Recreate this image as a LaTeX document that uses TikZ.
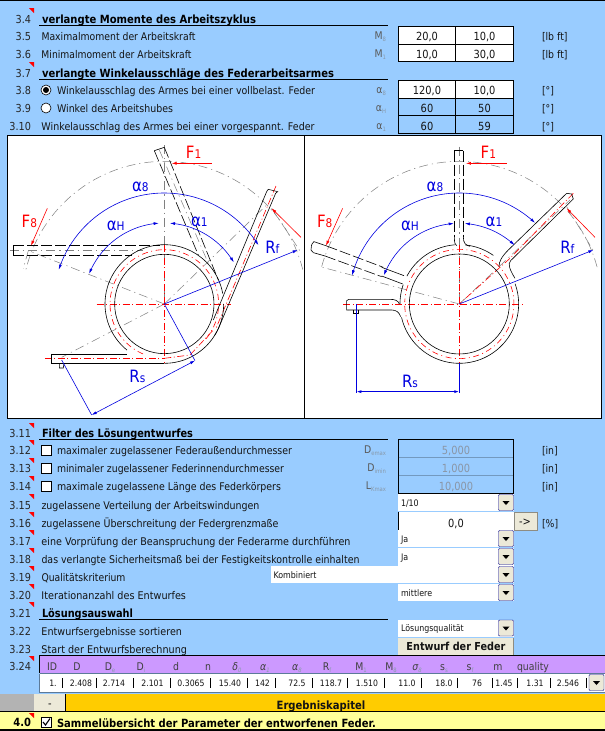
\documentclass[tikz,border=0pt]{standalone}
\usepackage{graphicx}
\usepackage{fontspec}
\setmainfont[FakeStretch=0.88]{DejaVu Sans}
\usetikzlibrary{arrows.meta}
\definecolor{bg}{HTML}{99CCFF}
\definecolor{purp}{HTML}{CC99FF}
\definecolor{orng}{HTML}{FFCC00}
\definecolor{yell}{HTML}{FFFF99}
\definecolor{btn}{HTML}{ECE9D8}
\definecolor{subg}{HTML}{8899AA}
\definecolor{dis}{HTML}{8A96A6}
\definecolor{dblue}{HTML}{0000E0}
\definecolor{lgray}{HTML}{808080}
\newcommand\subg[1]{\raisebox{-2pt}{\fontsize{6}{6}\selectfont\color{subg}#1}}
\newcommand\fitw[2]{\resizebox{#1pt}{\height}{#2}}
\newcommand\carc[5]{plot[domain=#4:#5,samples=60] ({#1+#3*cos(\x)},{#2-#3*sin(\x)})}
\tikzset{
  txt/.style={inner sep=0pt,outer sep=0pt,font=\fontsize{10.6}{12}\selectfont,text=black!92},
  lbl/.style={txt,anchor=base west,yshift=-4pt},
  num/.style={txt,anchor=base east,yshift=-4pt,font=\fontsize{11}{12}\selectfont,text=black!85},
  head/.style={lbl,font=\fontsize{11.3}{12}\bfseries\selectfont,text=black},
  sym/.style={num,yshift=1pt,font=\fontsize{10.6}{12}\selectfont,text=black!65},
  unit/.style={lbl},
  mid/.style={txt,anchor=base,yshift=-4pt,font=\fontsize{11.2}{12}\selectfont},
  small/.style={lbl,yshift=0.5pt,font=\fontsize{9}{10}\selectfont},
  tab/.style={txt,anchor=base,yshift=-3pt,font=\fontsize{8.8}{10}\selectfont},
  hdr/.style={txt,anchor=base,yshift=-4pt,font=\fontsize{10.6}{10}\selectfont,text=black!75},
  cell/.style={draw=black,line width=0.8pt},
  rline/.style={black,line width=0.9pt},
  wire/.style={black,line width=0.6pt},
  dwire/.style={wire,dash pattern=on 11pt off 3pt},
  redc/.style={red,line width=0.6pt,dash pattern=on 7pt off 2.5pt on 1pt off 2.5pt},
  redcs/.style={red,line width=0.6pt,dash pattern=on 6pt off 3.5pt on 1pt off 3.5pt},
  grayc/.style={lgray,line width=0.5pt,dash pattern=on 9pt off 4pt on 1.2pt off 4pt},
  bluel/.style={dblue,line width=0.6pt},
  redl/.style={red,line width=0.6pt},
  bt/.style={-{Latex[length=5pt,width=3pt]}},
  btt/.style={{Latex[length=5pt,width=3pt]}-{Latex[length=5pt,width=3pt]}},
  blabel/.style={txt,anchor=center,text=dblue,font=\fontsize{17}{17}\selectfont},
  rlabel/.style={txt,anchor=center,text=red,font=\fontsize{17}{17}\selectfont},
}
\newcommand\sm{\fontsize{12}{12}\selectfont}
\newcommand\corner[2]{\fill[red] (#1,#2) -- ++(5,0) -- ++(0,5) -- cycle;}
\newcommand\dropbtn[2]{%
  \fill[btn,draw=dblue!60!black,line width=0.4pt,rounded corners=1pt] (#1,#2) rectangle ++(15,16);
  \fill[black] (#1+4,#2+6.5) -- ++(7,0) -- ++(-3.5,4) -- cycle;}
\newcommand\dropdown[6]{% name, x1, y1, x2, y2, text
  \fill[white] (#2,#3) rectangle (#4,#5);
  \node[small] (#1) at (#2+3,{(#3+#5)/2}) {#6};
  \dropbtn{#4-15}{#3+0.5}}
\newcommand\chk[2]{\draw[black,fill=white,line width=0.8pt] (#1,#2) rectangle ++(10,10);}
\begin{document}
\begin{tikzpicture}[x=1pt,y=-1pt]
\useasboundingbox (0,0) rectangle (605,731);
\fill[bg] (0,0) rectangle (605,731);
\fill[black] (0,0) rectangle (605,1);

% ---- section 3.4 .. 3.10
\corner{29}{8}\corner{29}{62}
\node[num] (n34) at (31,19) {3.4};
\node[head] (h34) at (42,19) {\fitw{214}{verlangte Momente des Arbeitszyklus}};
\draw[rline] (39,25.5) -- (388,25.5);
\node[num] (n35) at (31,36) {3.5};
\node[lbl] (t35) at (41.5,36) {\fitw{154}{Maximalmoment der Arbeitskraft}};
\node[sym] (s35) at (386,36) {M\subg{8}};
\node[num] (n36) at (31,54) {3.6};
\node[lbl] (t36) at (41.5,54) {\fitw{150}{Minimalmoment der Arbeitskraft}};
\node[sym] (s36) at (386,54) {M\subg{1}};
\node[num] (n37) at (31,73) {3.7};
\node[head] (h37) at (42,73) {\fitw{292}{verlangte Winkelausschläge des Federarbeitsarmes}};
\draw[rline] (39,79.5) -- (388,79.5);
\node[num] (n38) at (31,90) {3.8};
\node[lbl] (t38) at (57,90) {\fitw{258}{Winkelausschlag des Armes bei einer vollbelast. Feder}};
\node[sym] (s38) at (386,90) {α\subg{8}};
\node[num] (n39) at (31,108) {3.9};
\node[lbl] (t39) at (57,108) {\fitw{116}{Winkel des Arbeitshubes}};
\node[sym] (s39) at (386,108) {α\subg{H}};
\node[num] (n310) at (31,126) {3.10};
\node[lbl] (t310) at (41.5,126) {\fitw{273}{Winkelausschlag des Armes bei einer vorgespannt. Feder}};
\node[sym] (s310) at (386,126) {α\subg{1}};
\draw[black,fill=white,line width=0.6pt] (46,90) circle (5);
\fill[black] (46,90) circle (3);
\draw[black,fill=white,line width=0.6pt] (46,108) circle (5);

\fill[white] (398,26) rectangle (513.5,61.5);
\fill[white] (398,80) rectangle (513.5,98);
\draw[cell] (398,26) rectangle (513.5,61.5);
\draw[cell] (398,44) -- (513.5,44) (455.7,26) -- (455.7,61.5);
\draw[cell] (398,80) rectangle (513.5,133.5);
\draw[cell] (398,98) -- (513.5,98) (398,115.5) -- (513.5,115.5) (455.7,80) -- (455.7,133.5);
\node[mid] (v1a) at (427,36) {20,0};
\node[mid] (v1b) at (484.5,36) {10,0};
\node[mid] (v2a) at (427,54) {10,0};
\node[mid] (v2b) at (484.5,54) {30,0};
\node[mid] (v3a) at (427,90) {120,0};
\node[mid] (v3b) at (484.5,90) {10,0};
\node[mid] (v4a) at (427,108) {60};
\node[mid] (v4b) at (484.5,108) {50};
\node[mid] (v5a) at (427,126) {60};
\node[mid] (v5b) at (484.5,126) {59};
\node[unit] (u1) at (542,36) {[lb ft]};
\node[unit] (u2) at (542,54) {[lb ft]};
\node[unit] (u3) at (542,90) {[°]};
\node[unit] (u4) at (542,108) {[°]};
\node[unit] (u5) at (542,126) {[°]};

% ---- drawing frames
\fill[white] (7.3,135) rectangle (601.5,418);
\draw[black,line width=0.9pt] (7.3,135) rectangle (601.5,418);
\draw[black,line width=0.9pt] (304.3,135) -- (304.3,418);

% ---- left figure (coordinates of a 3x enlargement)
\begin{scope}[shift={(0,130)},x=0.3333pt,y=-0.3333pt]
  \coordinate (L) at (493,522);
  % gray construction
  \draw[grayc] \carc{493}{522}{428}{14}{166};
  \draw[grayc] (493,45) -- (L);
  \draw[grayc] (L) -- (85,362);
  \draw[grayc] (85,362) -- (70,415);
  \draw[grayc] (L) -- (800,225);
  \draw[grayc] (815,235) -- (905,370);
  \draw[grayc] (L) -- (185,682);
  \draw[grayc] (30,362) -- (430,362);
  \draw[grayc] (478,60) -- (625,400);
  % red centre lines
  \draw[redc] (290,522) -- (692,522);
  \draw[redc] (493,345) -- (493,700);
  \draw[redcs] \carc{493}{522}{163}{-40}{250};
  \draw[redc] (828,168) -- (648,595);
  \draw[redc] (135,685) -- (493,685);
  \draw[redc] (493,685) -- (570,675) -- (640,600);
  % dashed positions
  \draw[dwire] (40,347) -- (480,347);
  \draw[dwire] (40,376) -- (395,376);
  \draw[wire] (40,347) -- (40,376);
  \draw[wire] (463,62) -- (493,52);
  \draw[dwire] (463,62) -- (595,375);
  \draw[dwire] (493,52) -- (655,450);
  % coil and arms
  \draw[wire] (493,522) circle[radius=149];
  \draw[wire] \carc{493}{522}{178}{-32}{0} ;
  \draw[wire] \carc{493}{522}{178}{10}{231};
  \draw[wire] (154,672) -- (380,672);
  \draw[wire] (154,700) -- (493,700);
  \draw[wire] (154,672) -- (154,700);
  \draw[wire] \carc{493}{522}{178}{-90}{-24};
  \draw[wire] (656,594) -- (827,190) -- (833,185) -- (805,178) -- (800,185) -- (640,570);
  \draw[wire] (178,700) -- (178,714) -- (190,714) -- (192,700);
  % blue dimensions
  \draw[bluel,btt] \carc{493}{522}{333}{32}{162};
  \draw[bluel,btt] \carc{493}{522}{243}{31}{86};
  \draw[bluel,btt] \carc{493}{522}{243}{94}{158};
  \draw[bluel,bt] (L) -- (893,360);
  \draw[bluel] (L) -- (585,692);
  \draw[bluel] (185,690) -- (275,855);
  \draw[bluel,btt] (275,855) -- (585,692);
  % red forces
  \draw[redl,bt] (635,100) -- (515,100);
  \draw[redl,bt] (142,235) -- (93,347);
  \draw[redl,bt] (903,322) -- (815,235);
  % labels
  \node[rlabel] (lF1) at (581,68) {F\sm 1};
  \node[rlabel] (lF8) at (88,275) {F\sm 8};
  \node[blabel] (la8) at (421,170) {α\sm 8};
  \node[blabel] (laH) at (347,288) {α\sm H};
  \node[blabel] (la1) at (598,275) {α\sm 1};
  \node[blabel] (lRf) at (817,352) {R\sm f};
  \node[blabel] (lRs) at (412,740) {R\sm s};
\end{scope}

% ---- right figure
\begin{scope}[shift={(300,130)},x=0.3333pt,y=-0.3333pt]
  \coordinate (R) at (478,522);
  \draw[grayc] \carc{478}{522}{428}{15}{165};
  \draw[grayc] (478,50) -- (R);
  \draw[grayc] (R) -- (60,410);
  \draw[grayc] (R) -- (810,210);
  \draw[grayc] (800,230) -- (885,370);
  \draw[redc] (130,522) -- (675,522);
  \draw[redc] (478,345) -- (478,700);
  \draw[redcs] \carc{478}{522}{164}{-178}{178};
  \draw[redc] (820,190) -- (630,385);
  \draw[redc] (630,385) -- (R);
  % dashed arms
  \draw[wire] (463,62) -- (490,62);
  \draw[dwire] (463,62) -- (463,320);
  \draw[dwire] (490,62) -- (490,320);
  \draw[wire] (463,320) .. controls (463,340) and (466,345) .. (470,347);
  \draw[wire] (490,320) .. controls (490,340) and (497,346) .. (510,349);
  \draw[wire] (42,335) .. controls (34,340) and (33,352) .. (33,360) -- (40,368);
  \draw[wire] (42,335) -- (80,348);
  \draw[wire] (40,368) -- (75,378);
  \draw[dwire] (80,348) -- (250,412);
  \draw[dwire] (75,378) -- (245,440);
  \draw[wire] (245,412) -- (312,437);
  \draw[wire] (245,438) -- (308,462);
  % coil
  \draw[wire] (478,522) circle[radius=150];
  \draw[wire] \carc{478}{522}{178}{55}{84};
  \draw[wire] \carc{478}{522}{178}{94}{152};
  \draw[wire] \carc{478}{522}{178}{161}{180};
  \draw[wire] \carc{478}{522}{178}{193}{380};
  % right arm
  \draw[wire] (800,190) -- (625,360) .. controls (605,380) and (597,395) .. (597,410);
  \draw[wire] (820,207) -- (632,392) .. controls (622,402) and (630,420) .. (645,445);
  \draw[wire] (800,190) -- (815,192) -- (820,207);
  % lower arm
  \draw[wire] (147,508) -- (270,508) .. controls (285,508) and (295,512) .. (298,522);
  \draw[wire] (147,540) -- (275,540) .. controls (290,540) and (298,548) .. (302,560);
  \draw[wire] (147,508) -- (140,512) -- (140,540) -- (147,540);
  \draw[wire] (160,540) -- (160,550) -- (176,550) -- (176,540);
  % blue
  \draw[bluel,btt] \carc{478}{522}{333}{47}{165};
  \draw[bluel,btt] \carc{478}{522}{242}{47}{86};
  \draw[bluel,btt] \carc{478}{522}{242}{94}{159};
  \draw[bluel,bt] (R) -- (880,360);
  \draw[bluel] (169,522) -- (169,790);
  \draw[bluel] (478,700) -- (478,790);
  \draw[bluel,line width=0.9pt,btt] (169,785) -- (478,785);
  % red
  \draw[redl,bt] (620,100) -- (498,100);
  \draw[redl,bt] (128,235) -- (78,347);
  \draw[redl,bt] (885,322) -- (800,235);
  \node[rlabel] (rF1) at (565,68) {F\sm 1};
  \node[rlabel] (rF8) at (74,275) {F\sm 8};
  \node[blabel] (ra8) at (405,170) {α\sm 8};
  \node[blabel] (raH) at (330,288) {α\sm H};
  \node[blabel] (ra1) at (582,275) {α\sm 1};
  \node[blabel] (rRf) at (802,352) {R\sm f};
  \node[blabel] (rRs) at (330,755) {R\sm s};
\end{scope}

% ---- section 3.11 ..
\foreach \yy in {423,440,458,476,494,512,530,548,566,584,602,656}{\corner{29}{\yy}}
\node[num] (n311) at (31,433) {3.11};
\node[head] (h311) at (42,433) {\fitw{151}{Filter des Lösungentwurfes}};
\draw[rline] (39,439.5) -- (388,439.5);
\node[num] (n312) at (31,450) {3.12};
\node[lbl] (t312) at (57,450) {\fitw{235}{maximaler zugelassener Federaußendurchmesser}};
\node[sym] (s312) at (386,450) {D\subg{emax}};
\node[num] (n313) at (31,468) {3.13};
\node[lbl] (t313) at (57,468) {\fitw{227}{minimaler zugelassener Federinnendurchmesser}};
\node[sym] (s313) at (386,468) {D\subg{imin}};
\node[num] (n314) at (31,486) {3.14};
\node[lbl] (t314) at (57,486) {\fitw{224}{maximale zugelassene Länge des Federkörpers}};
\node[sym] (s314) at (386,486) {L\subg{Kmax}};
\chk{41}{445}\chk{41}{463}\chk{41}{481}
\draw[cell] (398,439.5) rectangle (513.5,493);
\draw[bg!75!black,line width=0.4pt] (398.5,457) -- (513,457) (398.5,475) -- (513,475);
\node[mid,text=dis] (v312) at (456,450) {5,000};
\node[mid,text=dis] (v313) at (456,468) {1,000};
\node[mid,text=dis] (v314) at (456,486) {10,000};
\node[unit] (u312) at (542,450) {[in]};
\node[unit] (u313) at (542,468) {[in]};
\node[unit] (u314) at (542,486) {[in]};

\node[num] (n315) at (31,505) {3.15};
\node[lbl] (t315) at (41.5,505) {\fitw{218}{zugelassene Verteilung der Arbeitswindungen}};
\dropdown{d315}{398}{494}{513.5}{511}{1/10}
\node[num] (n316) at (31,523) {3.16};
\node[lbl] (t316) at (41.5,523) {\fitw{237}{zugelassene Überschreitung der Federgrenzmaße}};
\fill[white] (398,512) rectangle (513.5,530);
\draw[black,line width=0.8pt] (398,512) -- (398,530) -- (513.5,530);
\node[mid] (v316) at (456,523) {0,0};
\draw[fill=btn,draw=btn!60!black,line width=0.5pt] (514,512) rectangle (537,530);
\node[mid] (b316) at (525,521) {->};
\node[unit] (u316) at (542,523) {[\%]};
\node[num] (n317) at (31,541) {3.17};
\node[lbl] (t317) at (41.5,541) {\fitw{309}{eine Vorprüfung der Beanspruchung der Federarme durchführen}};
\dropdown{d317}{398}{530}{513.5}{547}{Ja}
\node[num] (n318) at (31,559) {3.18};
\node[lbl] (t318) at (41.5,559) {\fitw{318}{das verlangte Sicherheitsmaß bei der Festigkeitskontrolle einhalten}};
\dropdown{d318}{398}{548}{513.5}{566}{Ja}
\node[num] (n319) at (31,577) {3.19};
\node[lbl] (t319) at (41.5,577) {\fitw{84}{Qualitätskriterium}};
\dropdown{d319}{270.5}{566}{513.5}{583}{Kombiniert}
\node[num] (n320) at (31,595) {3.20};
\node[lbl] (t320) at (41.5,595) {\fitw{144.5}{Iterationanzahl des Entwurfes}};
\dropdown{d320}{398}{584}{513.5}{601}{mittlere}
\node[num] (n321) at (31,613) {3.21};
\node[head] (h321) at (42,613) {\fitw{91}{Lösungsauswahl}};
\draw[rline] (39,619.5) -- (388,619.5);
\node[num] (n322) at (31,631) {3.22};
\node[lbl] (t322) at (41.5,631) {\fitw{140.5}{Entwurfsergebnisse sortieren}};
\dropdown{d322}{398}{619.5}{513.5}{637}{Lösungsqualität}
\node[num] (n323) at (31,649) {3.23};
\node[lbl] (t323) at (41.5,649) {\fitw{145.5}{Start der Entwurfsberechnung}};
\fill[btn] (398,637.5) rectangle (513.5,655);
\draw[btn!60!black,line width=0.5pt] (398,655) -- (513.5,655) -- (513.5,637.5);
\node[mid,font=\fontsize{11}{12}\bfseries\selectfont] (bE) at (456,646) {Entwurf der Feder};
\node[num] (n324) at (31,666) {3.24};

% ---- result table
\fill[purp] (39,655.5) rectangle (605,673);
\fill[white] (39.5,674) rectangle (605,692);
\draw[black,line width=0.9pt] (605,655.5) -- (39,655.5) -- (39,673);
\draw[bg!60!black,line width=0.7pt] (39.5,673.5) -- (605,673.5) (39.5,673.5) -- (39.5,692) -- (605,692);
\node[hdr] (c1) at (52,666) {ID};
\node[hdr] (c2) at (77,666) {D};
\node[hdr] (c3) at (110,666) {D\subg{e}};
\node[hdr] (c4) at (141,666) {D\subg{i}};
\node[hdr] (c5) at (176,666) {d};
\node[hdr] (c6) at (208,666) {n};
\node[hdr] (c7) at (237,666) {\itshape δ\subg{0}};
\node[hdr] (c8) at (265,666) {\itshape α\subg{1}};
\node[hdr] (c9) at (297,666) {\itshape α\subg{8}};
\node[hdr] (c10) at (327,666) {R\subg{f}};
\node[hdr] (c11) at (361,666) {M\subg{1}};
\node[hdr] (c12) at (391,666) {M\subg{8}};
\node[hdr] (c13) at (417,666) {\itshape σ\subg{8}};
\node[hdr] (c14) at (444,666) {s\subg{s}};
\node[hdr] (c15) at (470,666) {s\subg{f}};
\node[hdr] (c16) at (498,666) {m};
\node[hdr] (c17) at (533,666) {quality};
\node[tab] (r1) at (53,683) {1.};
\node[tab] (r2) at (81,683) {2.408};
\node[tab] (r3) at (114,683) {2.714};
\node[tab] (r4) at (152.5,683) {2.101};
\node[tab] (r5) at (191,683) {0.3065};
\node[tab] (r6) at (230,683) {15.40};
\node[tab] (r7) at (262.5,683) {142};
\node[tab] (r8) at (297,683) {72.5};
\node[tab] (r9) at (331,683) {118.7};
\node[tab] (r10) at (367,683) {1.510};
\node[tab] (r11) at (407,683) {11.0};
\node[tab] (r12) at (444,683) {18.0};
\node[tab] (r13) at (477,683) {76};
\node[tab] (r14) at (504,683) {1.45};
\node[tab] (r15) at (535,683) {1.31};
\node[tab] (r16) at (568,683) {2.546};
\foreach \xx in {62,96.5,133,170,210,247,275,312,347.5,384,421,457.5,492,517,550,586}{
  \draw[black,line width=0.7pt] (\xx,678) -- (\xx,688);}
\dropbtn{589}{674.5}

% ---- chapter bands
\fill[lgray!60] (0,694) rectangle (34,711);
\fill[orng] (65.5,694) rectangle (605,711);
\fill[btn] (34,694) rectangle (65,711);
\draw[black,line width=0.9pt] (65.5,694) -- (65.5,711);
\node[mid] (bm) at (50,703) {-};
\node[mid,font=\fontsize{11.4}{12}\bfseries\selectfont] (eK) at (321,705) {Ergebniskapitel};
\fill[yell] (0,712) rectangle (605,729);
\draw[black,line width=1.4pt] (0,711.7) -- (605,711.7);
\draw[black,line width=1.6pt] (0,730) -- (605,730);
\corner{29}{713}
\node[num,font=\fontsize{11.3}{12}\bfseries\selectfont,text=black] (n40) at (31,722) {4.0};
\chk{41}{717}
\draw[black,line width=1.1pt] (43,722) -- (45.5,725) -- (50,718.5);
\node[head] (h40) at (57,723) {\fitw{319}{Sammelübersicht der Parameter der entworfenen Feder.}};
\end{tikzpicture}
\end{document}
